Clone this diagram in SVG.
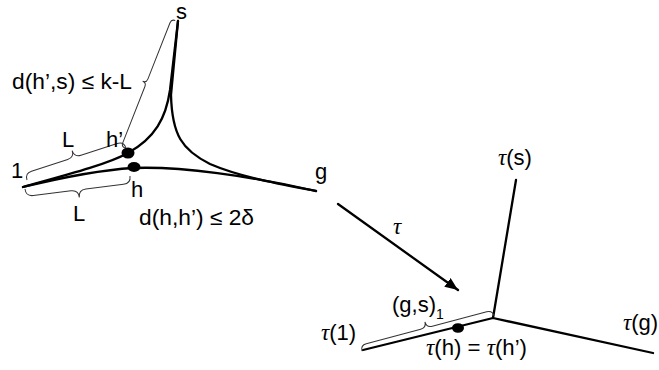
<svg xmlns="http://www.w3.org/2000/svg" width="659" height="370" viewBox="0 0 659 370">
<style>
.ln{fill:none;stroke:#000;stroke-width:2.3;stroke-linecap:round}
.br{fill:none;stroke:#333;stroke-width:1}
.t{font-family:"Liberation Sans",Arial,sans-serif;font-size:22px;fill:#000}
.tau{font-family:"Liberation Serif","Times New Roman",serif;font-style:italic;font-size:23px}
</style>
<defs>
<marker id="ah" viewBox="0 0 12 10" refX="12" refY="5" markerWidth="13" markerHeight="11" markerUnits="userSpaceOnUse" orient="auto">
<path d="M0,0 L12,5 L0,10 Z" fill="#000"/>
</marker>
</defs>
<rect width="659" height="370" fill="#fff"/>
<g id="connectors">
<path class="ln" d="M23,187 C70,174 108,164 128,153 C155,138 166,118 170,90 L178,21"/>
<path class="ln" d="M178,21 L171,95 C172,135 182,150 210,164 C240,177 280,184 316,191"/>
<path class="ln" d="M23,187 C60,178 100,170 133,168 C180,166 250,176 316,191"/>
<path class="ln" d="M338,204 L458,290" marker-end="url(#ah)"/>
<path class="ln" stroke-width="2.7" d="M363,350 L493,318"/>
<path class="ln" d="M493,318 L516,180"/>
<path class="ln" d="M493,318 L653,353"/>
</g>
<g id="braces">
<path class="br" transform="translate(27,180) rotate(-17.9)" d="M0,0 Q0,-7 7,-7 L45,-7 Q52,-7 52,-14 Q52,-7 59,-7 L97,-7 Q104,-7 104,0"/>
<path class="br" transform="translate(25,189) rotate(-7.06)" d="M0,0 Q0,7.5 7.5,7.5 L45.4,7.5 Q52.9,7.5 52.9,15 Q52.9,7.5 60.4,7.5 L98.3,7.5 Q105.8,7.5 105.8,0"/>
<path class="br" transform="translate(125,148) rotate(-68.5)" d="M0,0 Q0,-4 4,-4 L64.5,-4 Q68.5,-4 68.5,-8 Q68.5,-4 72.5,-4 L133,-4 Q137,-4 137,0"/>
<path class="br" transform="translate(362,351) rotate(-14.85)" d="M0,0 Q0,-6 6,-6 L62.3,-6 Q68.3,-6 68.3,-12 Q68.3,-6 74.3,-6 L130.6,-6 Q136.6,-6 136.6,0"/>
</g>
<g id="node-hprime"><ellipse cx="128" cy="153" rx="6.5" ry="5.5" fill="#000"/><text class="t" x="106" y="147">h’</text></g>
<g id="node-h"><ellipse cx="134" cy="167" rx="6.5" ry="5" fill="#000"/><text class="t" x="131" y="197">h</text></g>
<g id="node-1"><text class="t" x="11" y="178">1</text></g>
<g id="node-s"><text class="t" x="176" y="19" font-size="20">s</text></g>
<g id="node-g"><text class="t" x="315" y="179">g</text></g>
<g id="labels-left">
<text class="t" x="12" y="89" textLength="120" lengthAdjust="spacingAndGlyphs">d(h’,s) ≤ k-L</text>
<text class="t" x="62" y="147">L</text>
<text class="t" x="73" y="221">L</text>
<text class="t" x="139" y="225" textLength="115" lengthAdjust="spacingAndGlyphs">d(h,h’) ≤ 2δ</text>
</g>
<g id="node-tau"><text class="t" x="393" y="234"><tspan class="tau">τ</tspan></text></g>
<g id="node-taus"><text class="t" x="498" y="165"><tspan class="tau">τ</tspan>(s)</text></g>
<g id="node-taug"><text class="t" x="623" y="330"><tspan class="tau">τ</tspan>(g)</text></g>
<g id="node-tau1"><text class="t" x="321" y="340"><tspan class="tau">τ</tspan>(1)</text></g>
<g id="node-tauh"><ellipse cx="458" cy="328" rx="6" ry="4.8" fill="#000"/><text class="t" x="426" y="355" textLength="101" lengthAdjust="spacingAndGlyphs"><tspan class="tau">τ</tspan>(h) = <tspan class="tau">τ</tspan>(h’)</text></g>
<g id="node-gs"><text class="t" x="392" y="312">(g,s)<tspan font-size="14" dy="7">1</tspan></text></g>
</svg>
